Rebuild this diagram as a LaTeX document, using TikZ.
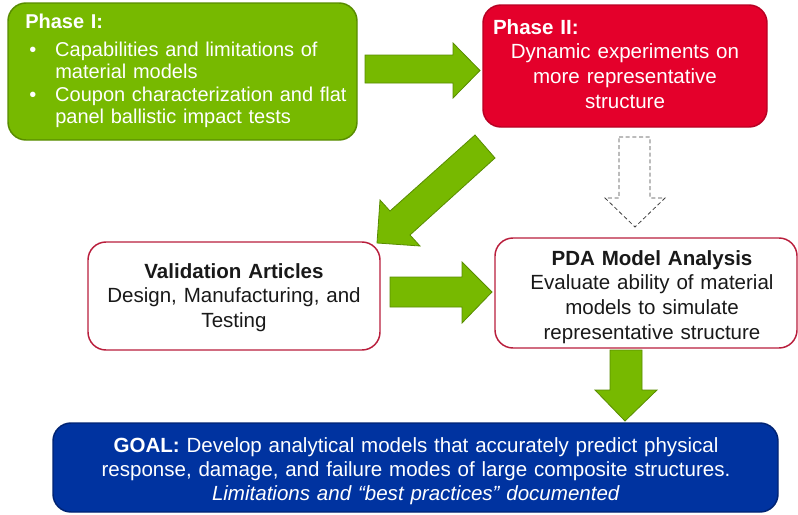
\documentclass[tikz,border=0pt]{standalone}
\usepackage{fontspec}
\setmainfont{Liberation Sans}
\newdimen\px \px=0.75pt
\definecolor{pgreen}{RGB}{119,185,0}
\definecolor{pgreenb}{RGB}{88,140,0}
\definecolor{pred}{RGB}{228,0,43}
\definecolor{predb}{RGB}{185,0,35}
\definecolor{pblue}{RGB}{0,51,160}
\definecolor{pblueb}{RGB}{0,35,115}
\definecolor{pcrim}{RGB}{185,30,60}
\definecolor{ptext}{RGB}{25,25,25}
\begin{document}
\begin{tikzpicture}[x=0.75pt,y=-0.75pt,
  boxbase/.style={rounded corners=13.5pt, inner sep=0pt, line width=1.1pt},
  greenbox/.style={boxbase, fill=pgreen, draw=pgreenb},
  redbox/.style={boxbase, fill=pred, draw=predb},
  bluebox/.style={boxbase, fill=pblue, draw=pblueb},
  whitebox/.style={boxbase, fill=white, draw=pcrim},
  txt/.style={inner sep=0pt, anchor=base, font=\fontsize{15.4pt}{18.5pt}\selectfont},
  wtxt/.style={txt, text=white},
  dtxt/.style={txt, text=ptext},
  blockarrow/.style={fill=pgreen, draw=pgreenb, line width=0.6pt, line join=miter},
  dasharrow/.style={fill=white, draw=black!75, line width=0.6pt, dash pattern=on 3pt off 2pt}
]
\useasboundingbox (0,0) rectangle (798,514);

% boxes
\node[greenbox, minimum width=261.75pt, minimum height=102.75pt] (p1) at (182.5,71.5) {};
\node[redbox, minimum width=213pt, minimum height=91.5pt] (p2) at (625,66) {};
\node[whitebox, minimum width=219pt, minimum height=81pt] (val) at (234,296) {};
\node[whitebox, minimum width=226.5pt, minimum height=82.5pt] (pda) at (646,293) {};
\node[bluebox, minimum width=543.75pt, minimum height=66.75pt] (goal) at (415.5,467.5) {};

% texts
\node[wtxt, anchor=base west, text width=247.5pt, align=left,
      font=\fontsize{15pt}{16.75pt}\selectfont] (p1text) at (25,28)
  {\textbf{Phase I:}\\[4.5pt]
   \makebox[30\px][l]{\hspace*{4\px}\textbullet}Capabilities and limitations of\\
   \hspace*{30\px}material models\\
   \makebox[30\px][l]{\hspace*{4\px}\textbullet}Coupon characterization and flat\\
   \hspace*{30\px}panel ballistic impact tests};
\node[wtxt, text width=198pt, align=center] (p2text) at (625,34)
  {\makebox[198pt][l]{\textbf{Phase II:}}\\Dynamic experiments on\\more representative\\structure};
\node[dtxt, text width=210pt, align=center] (valtext) at (234,278)
  {\textbf{Validation Articles}\\Design, Manufacturing, and\\Testing};
\node[dtxt, text width=220pt, align=center] (pdatext) at (652,265)
  {\textbf{PDA Model Analysis}\\Evaluate ability of material\\models to simulate\\representative structure};
\node[wtxt, text width=540pt, align=center, font=\fontsize{15.4pt}{18pt}\selectfont] (goaltext) at (416,452)
  {\textbf{GOAL:} Develop analytical models that accurately predict physical\\
   response, damage, and failure modes of large composite structures.\\
   \textit{Limitations and “best practices” documented}};

% block arrows
\draw[blockarrow] (365,55) -- (453,55) -- (453,43) -- (480,70.5) -- (453,98) -- (453,83) -- (365,83) -- cycle;
\draw[blockarrow] (475,135) -- (495,158) -- (410,235) -- (420,246) -- (377,243) -- (380,200) -- (390,211) -- cycle;
\draw[dasharrow] (619,137) -- (650,137) -- (650,198) -- (665,198) -- (635,227) -- (605,198) -- (619,198) -- cycle;
\draw[blockarrow] (390,277) -- (462,277) -- (462,262) -- (492,292) -- (462,323) -- (462,307) -- (390,307) -- cycle;
\draw[blockarrow] (610,350) -- (642,350) -- (642,390) -- (657,390) -- (625,421) -- (595,390) -- (610,390) -- cycle;
\end{tikzpicture}
\end{document}
